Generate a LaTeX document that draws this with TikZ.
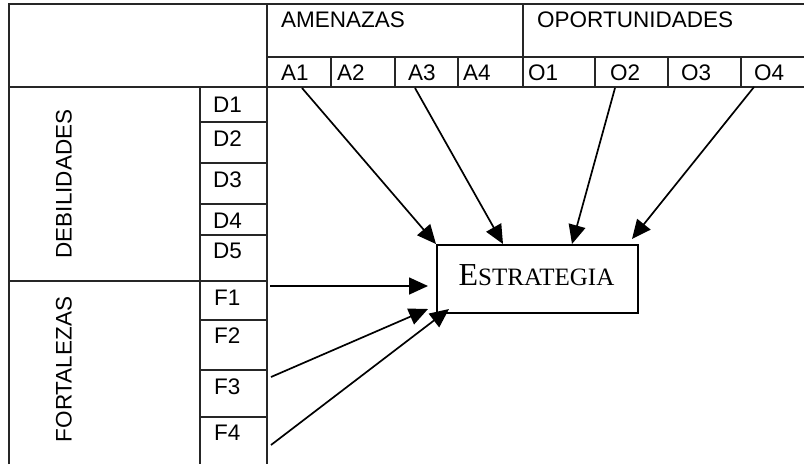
\documentclass[tikz,border=0pt]{standalone}
\usepackage{fontspec}
\setmainfont{Liberation Sans}
\newfontfamily\serifest{Liberation Serif}
\usetikzlibrary{arrows.meta}
\begin{document}
\begin{tikzpicture}[x=1pt,y=-1pt,
  grid/.style={line width=1.5pt,black!85},
  lbl/.style={anchor=base west,inner sep=0pt,font=\fontsize{22.5}{25}\selectfont},
  vlbl/.style={rotate=90,inner sep=0pt,font=\fontsize{22.5}{25}\selectfont},
  arr/.style={line width=1.7pt,-{Triangle[length=19pt,width=17pt]}},
  estbox/.style={draw,line width=2pt,minimum width=201pt,minimum height=68pt,inner sep=0pt}]
\useasboundingbox (0,0) rectangle (804,464);
% grid
\draw[grid] (9,464) -- (9,4) -- (804,4);
\draw[grid] (267,4) -- (267,464);
\draw[grid] (9,87) -- (804,87);
\draw[grid] (267,57) -- (804,57);
\draw[grid] (523,4) -- (523,87);
\foreach \x in {331,395,458,595,668,741} \draw[grid] (\x,57) -- (\x,87);
\draw[grid] (200,87) -- (200,464);
\draw[grid] (9,281) -- (267,281);
\foreach \y in {122,163,204,235,320,370,417} \draw[grid] (200,\y) -- (267,\y);
% header labels
\node[lbl] (am) at (281,27) {AMENAZAS};
\node[lbl] (op) at (537,27) {OPORTUNIDADES};
\node[lbl] (a1) at (281,80) {A1};
\node[lbl] (a2) at (337,80) {A2};
\node[lbl] (a3) at (408,80) {A3};
\node[lbl] (a4) at (463,80) {A4};
\node[lbl] (o1) at (528,80) {O1};
\node[lbl] (o2) at (610,80) {O2};
\node[lbl] (o3) at (681,80) {O3};
\node[lbl] (o4) at (754,80) {O4};
% row labels
\node[lbl] (d1) at (213,112) {D1};
\node[lbl] (d2) at (213,146) {D2};
\node[lbl] (d3) at (213,187) {D3};
\node[lbl] (d4) at (213,228) {D4};
\node[lbl] (d5) at (213,258) {D5};
\node[lbl] (f1) at (214,305) {F1};
\node[lbl] (f2) at (214,343) {F2};
\node[lbl] (f3) at (214,394) {F3};
\node[lbl] (f4) at (214,440) {F4};
\node[vlbl] (deb) at (64,184) {DEBILIDADES};
\node[vlbl] (fort) at (64,369.5) {FORTALEZAS};
% strategy box
\node[estbox] (est) at (537.5,279) {};
\node[inner sep=0pt,anchor=base] (esttxt) at (536.5,285) {\serifest{\fontsize{32}{35}\selectfont E}{\fontsize{25}{29}\selectfont STRATEGIA}};
% arrow start points
\coordinate (sa1) at (302,88);
\coordinate (sa3) at (415,88);
\coordinate (so2) at (615,88);
\coordinate (so4) at (754,87);
\coordinate (sf1) at (270,286);
\coordinate (sf3) at (271,377);
\coordinate (sf4) at (271,445);
% arrow tips
\coordinate (ta1) at (436,244);
\coordinate (ta3) at (503,244);
\coordinate (to2) at (572,244);
\coordinate (to4) at (632,239);
\coordinate (tf1) at (428,286);
\coordinate (tf3) at (428,309);
\coordinate (tf4) at (449,309);
\draw[arr] (sa1) -- (ta1);
\draw[arr] (sa3) -- (ta3);
\draw[arr] (so2) -- (to2);
\draw[arr] (so4) -- (to4);
\draw[arr] (sf1) -- (tf1);
\draw[arr] (sf3) -- (tf3);
\draw[arr] (sf4) -- (tf4);
\end{tikzpicture}
\end{document}
